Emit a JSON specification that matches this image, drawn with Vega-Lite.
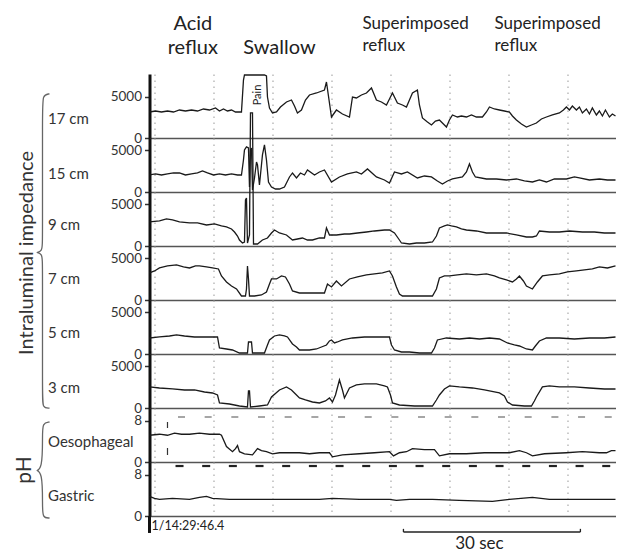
{
"$schema": "https://vega.github.io/schema/vega-lite/v6.json",
"padding": {"left": 13.5, "top": 13, "right": 0, "bottom": 0},
"spacing": 0,
"bounds": "flush",
"config": {
 "view": {"stroke": null},
 "font": "Lato",
 "axisY": {"domainWidth": 3, "domainColor": "#111", "tickSize": 5, "tickWidth": 1.5, "tickColor": "#333", "labelFontSize": 13.5, "labelColor": "#333", "labelPadding": 3, "grid": false, "format": "d", "titleAngle": 0, "titleAlign": "left", "titleBaseline": "middle", "titleX": -102, "titleFontSize": 15, "titleFontWeight": "normal", "titleColor": "#333"},
 "axisX": {"domainColor": "#555", "domainWidth": 1.5, "ticks": false, "labels": false, "grid": true, "gridColor": "#aaa", "gridDash": [1.5, 4.5], "gridWidth": 1.2}
},
"datasets": {
 "c17": [{"t":0,"v":3133},{"t":1.02,"v":3254},{"t":2.03,"v":3133},{"t":3.05,"v":3254},{"t":4.07,"v":3133},{"t":5.08,"v":3374},{"t":6.10,"v":3254},{"t":7.12,"v":3374},{"t":8.14,"v":3254},{"t":9.15,"v":3495},{"t":10.17,"v":3374},{"t":11.19,"v":3615},{"t":11.86,"v":3254},{"t":12.54,"v":3495},{"t":13.22,"v":3254},{"t":13.90,"v":3374},{"t":14.58,"v":3133},{"t":15.59,"v":3133},{"t":15.93,"v":6989},{"t":16.10,"v":7592},{"t":16.95,"v":7592},{"t":17.80,"v":7592},{"t":18.64,"v":7592},{"t":19.49,"v":7592},{"t":19.83,"v":7471},{"t":20.00,"v":4941},{"t":20.34,"v":3615},{"t":20.85,"v":3013},{"t":21.53,"v":3133},{"t":22.20,"v":3736},{"t":23.22,"v":4338},{"t":24.07,"v":4579},{"t":24.58,"v":3856},{"t":25.08,"v":3013},{"t":25.76,"v":3374},{"t":26.44,"v":4579},{"t":27.12,"v":5182},{"t":28.31,"v":5423},{"t":29.66,"v":5784},{"t":30.00,"v":6748},{"t":30.85,"v":2531},{"t":31.69,"v":3374},{"t":32.71,"v":2892},{"t":33.90,"v":2531},{"t":34.41,"v":4941},{"t":35.08,"v":4820},{"t":35.93,"v":5182},{"t":36.78,"v":5423},{"t":37.63,"v":6025},{"t":38.47,"v":4579},{"t":39.32,"v":4338},{"t":40.17,"v":3977},{"t":40.68,"v":4700},{"t":41.19,"v":5423},{"t":42.03,"v":4218},{"t":42.88,"v":3977},{"t":43.56,"v":3736},{"t":44.07,"v":4579},{"t":44.58,"v":5423},{"t":45.42,"v":5784},{"t":45.76,"v":3977},{"t":46.27,"v":2410},{"t":47.12,"v":1928},{"t":47.80,"v":1567},{"t":48.47,"v":2049},{"t":49.15,"v":2169},{"t":49.83,"v":1687},{"t":50.34,"v":1326},{"t":50.85,"v":2169},{"t":51.36,"v":2772},{"t":52.20,"v":2531},{"t":52.88,"v":2651},{"t":53.73,"v":2531},{"t":54.58,"v":2772},{"t":55.42,"v":2531},{"t":56.44,"v":2531},{"t":57.12,"v":3133},{"t":57.63,"v":3736},{"t":58.47,"v":3495},{"t":59.32,"v":3374},{"t":60.17,"v":3254},{"t":61.02,"v":3133},{"t":61.53,"v":2651},{"t":62.20,"v":2169},{"t":63.05,"v":1687},{"t":63.90,"v":1326},{"t":64.75,"v":1567},{"t":65.59,"v":1808},{"t":66.44,"v":2290},{"t":67.29,"v":2531},{"t":68.31,"v":2772},{"t":69.49,"v":3013},{"t":70.17,"v":3374},{"t":70.68,"v":3736},{"t":71.19,"v":3374},{"t":71.69,"v":3856},{"t":72.37,"v":3374},{"t":72.88,"v":3736},{"t":73.39,"v":3013},{"t":74.07,"v":3495},{"t":74.58,"v":2892},{"t":75.08,"v":3615},{"t":75.76,"v":2772},{"t":76.27,"v":3254},{"t":76.78,"v":2651},{"t":77.29,"v":3374},{"t":77.97,"v":2531},{"t":78.47,"v":2892},{"t":79,"v":2651}],
 "c15": [{"t":0,"v":2049},{"t":1.02,"v":2169},{"t":2.03,"v":2049},{"t":3.05,"v":2169},{"t":4.07,"v":2290},{"t":5.08,"v":2290},{"t":6.10,"v":2049},{"t":7.12,"v":2169},{"t":8.14,"v":2290},{"t":8.98,"v":2531},{"t":9.83,"v":2290},{"t":10.85,"v":2049},{"t":11.86,"v":2169},{"t":12.88,"v":2049},{"t":13.90,"v":2169},{"t":14.92,"v":2049},{"t":15.59,"v":2049},{"t":15.93,"v":3856},{"t":16.10,"v":5061},{"t":16.44,"v":5423},{"t":16.78,"v":5302},{"t":16.95,"v":603},{"t":17.12,"v":5061},{"t":17.29,"v":5302},{"t":17.46,"v":241},{"t":17.80,"v":1687},{"t":18.14,"v":3615},{"t":18.31,"v":3254},{"t":18.64,"v":844},{"t":19.15,"v":4459},{"t":19.49,"v":5664},{"t":19.83,"v":3856},{"t":20.17,"v":1205},{"t":20.68,"v":603},{"t":21.36,"v":362},{"t":22.03,"v":362},{"t":22.88,"v":603},{"t":23.73,"v":1808},{"t":24.24,"v":2290},{"t":24.92,"v":1687},{"t":25.59,"v":2290},{"t":26.27,"v":2049},{"t":26.78,"v":2651},{"t":27.97,"v":2049},{"t":28.81,"v":2410},{"t":29.66,"v":2651},{"t":30.85,"v":1205},{"t":32.20,"v":1808},{"t":33.56,"v":2169},{"t":35.08,"v":2410},{"t":35.93,"v":2169},{"t":36.95,"v":2772},{"t":38.47,"v":1808},{"t":39.83,"v":1446},{"t":40.68,"v":1085},{"t":41.53,"v":2410},{"t":42.71,"v":2169},{"t":43.73,"v":2410},{"t":45.42,"v":1687},{"t":46.61,"v":1928},{"t":47.80,"v":1808},{"t":48.81,"v":1326},{"t":49.66,"v":964},{"t":50.51,"v":1326},{"t":51.36,"v":1567},{"t":52.20,"v":1687},{"t":53.05,"v":1808},{"t":53.73,"v":2410},{"t":54.24,"v":3374},{"t":54.75,"v":2410},{"t":55.25,"v":1808},{"t":57.12,"v":1567},{"t":58.81,"v":1567},{"t":60.51,"v":1446},{"t":62.20,"v":1567},{"t":63.56,"v":1326},{"t":64.92,"v":1205},{"t":66.10,"v":1446},{"t":67.29,"v":1205},{"t":68.64,"v":1567},{"t":70.68,"v":1567},{"t":72.03,"v":1808},{"t":72.88,"v":1687},{"t":74.58,"v":1446},{"t":76.27,"v":1567},{"t":77.63,"v":1446},{"t":79,"v":1446}],
 "c9": [{"t":0,"v":2892},{"t":1.69,"v":3013},{"t":2.88,"v":3254},{"t":3.90,"v":3133},{"t":5.08,"v":2892},{"t":6.78,"v":2772},{"t":8.14,"v":2772},{"t":9.66,"v":2531},{"t":11.02,"v":2651},{"t":12.20,"v":2410},{"t":13.05,"v":2290},{"t":13.90,"v":2049},{"t":14.41,"v":1687},{"t":14.92,"v":1205},{"t":15.25,"v":723},{"t":15.76,"v":362},{"t":16.10,"v":482},{"t":16.27,"v":5543},{"t":16.44,"v":5784},{"t":16.61,"v":362},{"t":16.95,"v":1326},{"t":17.12,"v":16027},{"t":17.46,"v":16027},{"t":17.63,"v":241},{"t":18.31,"v":241},{"t":19.15,"v":723},{"t":20.00,"v":964},{"t":20.68,"v":1567},{"t":21.19,"v":1928},{"t":22.03,"v":1567},{"t":23.22,"v":1326},{"t":24.24,"v":723},{"t":25.08,"v":844},{"t":25.93,"v":964},{"t":26.78,"v":723},{"t":27.63,"v":723},{"t":28.81,"v":964},{"t":29.66,"v":964},{"t":30.00,"v":2169},{"t":30.51,"v":1326},{"t":31.69,"v":1326},{"t":33.05,"v":1446},{"t":33.90,"v":1446},{"t":35.25,"v":1567},{"t":36.78,"v":1687},{"t":38.14,"v":1808},{"t":39.83,"v":1928},{"t":40.68,"v":1928},{"t":41.53,"v":1567},{"t":42.37,"v":723},{"t":42.71,"v":362},{"t":44.07,"v":241},{"t":45.25,"v":362},{"t":46.61,"v":362},{"t":47.97,"v":482},{"t":48.64,"v":1205},{"t":49.15,"v":2169},{"t":50.00,"v":2410},{"t":50.51,"v":2531},{"t":51.19,"v":2410},{"t":52.03,"v":2290},{"t":52.88,"v":2049},{"t":53.73,"v":1928},{"t":55.42,"v":1808},{"t":57.12,"v":1567},{"t":58.81,"v":1567},{"t":60.51,"v":1567},{"t":62.20,"v":1326},{"t":63.90,"v":1085},{"t":64.92,"v":1085},{"t":65.59,"v":1205},{"t":66.10,"v":1808},{"t":67.80,"v":1687},{"t":69.49,"v":1687},{"t":71.19,"v":1808},{"t":73.39,"v":1687},{"t":75.42,"v":1687},{"t":77.12,"v":1567},{"t":79,"v":1567}],
 "c7": [{"t":0,"v":3254},{"t":0.85,"v":3495},{"t":1.69,"v":3856},{"t":3.05,"v":4097},{"t":4.58,"v":4218},{"t":5.76,"v":3977},{"t":6.78,"v":3856},{"t":7.80,"v":4097},{"t":8.47,"v":4097},{"t":9.66,"v":3977},{"t":10.68,"v":3856},{"t":11.69,"v":3736},{"t":12.20,"v":2892},{"t":13.05,"v":2169},{"t":13.90,"v":1687},{"t":14.75,"v":1326},{"t":15.59,"v":482},{"t":16.27,"v":482},{"t":16.44,"v":1326},{"t":16.61,"v":4097},{"t":16.78,"v":2531},{"t":16.95,"v":482},{"t":17.80,"v":482},{"t":18.98,"v":603},{"t":19.83,"v":964},{"t":20.34,"v":1928},{"t":20.68,"v":2531},{"t":21.53,"v":2531},{"t":22.37,"v":2892},{"t":23.05,"v":2772},{"t":23.73,"v":1928},{"t":24.24,"v":1085},{"t":25.42,"v":844},{"t":27.12,"v":844},{"t":28.81,"v":844},{"t":29.66,"v":844},{"t":30.17,"v":1928},{"t":30.85,"v":1567},{"t":31.69,"v":2290},{"t":32.54,"v":1687},{"t":33.90,"v":2531},{"t":35.25,"v":2772},{"t":36.78,"v":3013},{"t":38.14,"v":3133},{"t":39.49,"v":3254},{"t":40.68,"v":3495},{"t":41.19,"v":2892},{"t":41.86,"v":1567},{"t":42.37,"v":723},{"t":42.88,"v":482},{"t":44.92,"v":482},{"t":46.61,"v":482},{"t":47.97,"v":482},{"t":48.64,"v":1326},{"t":49.15,"v":2651},{"t":50.00,"v":2892},{"t":50.85,"v":2892},{"t":52.20,"v":3013},{"t":53.73,"v":3133},{"t":55.42,"v":3013},{"t":57.12,"v":3133},{"t":58.47,"v":2892},{"t":59.32,"v":2651},{"t":60.51,"v":2410},{"t":61.53,"v":2169},{"t":62.20,"v":2531},{"t":62.71,"v":2892},{"t":63.39,"v":2290},{"t":63.90,"v":1687},{"t":64.92,"v":1326},{"t":65.76,"v":2169},{"t":66.61,"v":2892},{"t":67.80,"v":3013},{"t":69.49,"v":3133},{"t":70.85,"v":3374},{"t":72.37,"v":3495},{"t":73.73,"v":3615},{"t":75.08,"v":3736},{"t":76.27,"v":3977},{"t":77.63,"v":3856},{"t":79,"v":4097}],
 "c5": [{"t":0,"v":1928},{"t":1.69,"v":2049},{"t":3.39,"v":2169},{"t":4.58,"v":2290},{"t":5.93,"v":2169},{"t":7.63,"v":2049},{"t":9.32,"v":2049},{"t":10.68,"v":2049},{"t":11.53,"v":2049},{"t":11.86,"v":723},{"t":13.05,"v":603},{"t":14.07,"v":482},{"t":15.25,"v":121},{"t":16.61,"v":121},{"t":16.78,"v":1446},{"t":17.29,"v":1446},{"t":17.46,"v":121},{"t":19.49,"v":121},{"t":20.00,"v":1085},{"t":20.34,"v":1687},{"t":21.19,"v":2169},{"t":22.03,"v":2290},{"t":22.88,"v":2169},{"t":23.39,"v":2049},{"t":24.24,"v":1205},{"t":24.92,"v":844},{"t":25.42,"v":482},{"t":27.12,"v":482},{"t":28.31,"v":603},{"t":29.15,"v":844},{"t":30.00,"v":1085},{"t":30.51,"v":1567},{"t":30.85,"v":1687},{"t":31.36,"v":1326},{"t":31.86,"v":1446},{"t":32.71,"v":1687},{"t":33.56,"v":1808},{"t":34.41,"v":1928},{"t":36.44,"v":2049},{"t":38.98,"v":2049},{"t":40.68,"v":2049},{"t":41.02,"v":1085},{"t":41.53,"v":482},{"t":42.71,"v":241},{"t":44.07,"v":241},{"t":45.76,"v":121},{"t":47.80,"v":121},{"t":48.31,"v":723},{"t":48.81,"v":1687},{"t":50.34,"v":1928},{"t":52.54,"v":1808},{"t":54.24,"v":1928},{"t":55.93,"v":1808},{"t":57.63,"v":1928},{"t":59.32,"v":1808},{"t":60.68,"v":1326},{"t":61.86,"v":1085},{"t":62.71,"v":964},{"t":63.90,"v":603},{"t":64.92,"v":482},{"t":65.42,"v":964},{"t":66.10,"v":1567},{"t":67.29,"v":1928},{"t":69.49,"v":1928},{"t":72.03,"v":1808},{"t":74.58,"v":1928},{"t":77.12,"v":1928},{"t":79,"v":2049}],
 "c3": [{"t":0,"v":2531},{"t":1.69,"v":2410},{"t":3.90,"v":2290},{"t":5.93,"v":2169},{"t":7.63,"v":2169},{"t":9.32,"v":1928},{"t":10.68,"v":1808},{"t":11.53,"v":1567},{"t":11.86,"v":603},{"t":13.56,"v":482},{"t":15.25,"v":241},{"t":16.61,"v":121},{"t":16.78,"v":2049},{"t":16.95,"v":2049},{"t":17.12,"v":121},{"t":18.64,"v":241},{"t":20.00,"v":362},{"t":20.68,"v":1326},{"t":22.03,"v":2169},{"t":23.22,"v":2531},{"t":24.07,"v":2169},{"t":24.75,"v":1687},{"t":25.42,"v":1205},{"t":26.44,"v":964},{"t":27.63,"v":723},{"t":28.81,"v":603},{"t":29.83,"v":844},{"t":30.51,"v":1205},{"t":31.02,"v":723},{"t":31.53,"v":1567},{"t":32.20,"v":3374},{"t":32.71,"v":2169},{"t":33.05,"v":1205},{"t":33.90,"v":2410},{"t":35.08,"v":2772},{"t":36.44,"v":2892},{"t":38.47,"v":2892},{"t":39.83,"v":2651},{"t":40.34,"v":2531},{"t":40.85,"v":1567},{"t":41.19,"v":603},{"t":42.37,"v":362},{"t":44.92,"v":241},{"t":47.97,"v":241},{"t":48.64,"v":964},{"t":49.15,"v":1567},{"t":50.00,"v":2290},{"t":50.85,"v":2651},{"t":52.54,"v":2531},{"t":54.75,"v":2410},{"t":56.78,"v":2169},{"t":59.32,"v":1808},{"t":60.17,"v":1446},{"t":60.68,"v":723},{"t":61.53,"v":362},{"t":63.56,"v":241},{"t":64.75,"v":241},{"t":65.25,"v":844},{"t":65.59,"v":1326},{"t":66.61,"v":2531},{"t":67.80,"v":2651},{"t":69.49,"v":2531},{"t":72.03,"v":2531},{"t":74.58,"v":2410},{"t":77.12,"v":2290},{"t":79,"v":2290}],
 "phO": [{"t":0,"v":5.2},{"t":1.69,"v":5.4},{"t":3.05,"v":5.2},{"t":4.24,"v":5.6},{"t":5.42,"v":5.4},{"t":6.78,"v":5.4},{"t":8.47,"v":5.6},{"t":10.17,"v":5.4},{"t":11.86,"v":5.4},{"t":12.20,"v":5.2},{"t":13.05,"v":3.0},{"t":14.07,"v":2.0},{"t":14.58,"v":2.6},{"t":14.92,"v":3.2},{"t":15.25,"v":2.0},{"t":16.10,"v":1.6},{"t":17.46,"v":1.4},{"t":18.31,"v":2.6},{"t":18.98,"v":2.2},{"t":19.83,"v":2.0},{"t":20.85,"v":1.6},{"t":22.03,"v":1.8},{"t":23.73,"v":1.8},{"t":25.42,"v":1.8},{"t":27.12,"v":1.6},{"t":28.81,"v":1.8},{"t":30.51,"v":1.8},{"t":31.02,"v":1.0},{"t":32.71,"v":1.4},{"t":35.59,"v":1.6},{"t":38.14,"v":1.8},{"t":40.68,"v":2.0},{"t":41.36,"v":1.2},{"t":42.37,"v":1.8},{"t":43.56,"v":2.0},{"t":44.58,"v":2.6},{"t":46.61,"v":2.4},{"t":48.31,"v":2.4},{"t":49.15,"v":1.2},{"t":50.85,"v":1.6},{"t":53.73,"v":1.6},{"t":56.78,"v":1.8},{"t":59.32,"v":1.8},{"t":61.02,"v":1.8},{"t":62.71,"v":2.2},{"t":63.90,"v":1.8},{"t":64.92,"v":1.2},{"t":66.95,"v":1.6},{"t":70.68,"v":1.8},{"t":73.39,"v":2.0},{"t":76.27,"v":1.8},{"t":77.46,"v":1.8},{"t":78.31,"v":2.2},{"t":79,"v":2.2}],
 "phG": [{"t":0,"v":3.81},{"t":0.85,"v":3.43},{"t":1.69,"v":3.24},{"t":3.90,"v":3.43},{"t":6.78,"v":3.24},{"t":8.47,"v":3.62},{"t":9.66,"v":3.81},{"t":10.68,"v":3.43},{"t":13.56,"v":3.24},{"t":16.95,"v":3.24},{"t":20.34,"v":3.24},{"t":25.42,"v":3.24},{"t":28.81,"v":3.24},{"t":31.02,"v":3.43},{"t":35.59,"v":3.24},{"t":40.68,"v":3.24},{"t":41.86,"v":3.05},{"t":44.07,"v":3.24},{"t":47.97,"v":3.24},{"t":52.54,"v":3.05},{"t":58.14,"v":2.86},{"t":61.02,"v":3.24},{"t":64.92,"v":3.62},{"t":67.80,"v":3.24},{"t":70.68,"v":3.24},{"t":72.88,"v":3.24},{"t":76.27,"v":3.24},{"t":79,"v":3.24}],
 "annBig": [{"t":7.34,"v":13797,"label":"Acid"},{"t":7.34,"v":10905,"label":"reflux"},{"t":22.03,"v":10905,"label":"Swallow"}],
 "annSmall": [{"t":36.1,"v":13737,"label":"Superimposed"},{"t":36.1,"v":11086,"label":"reflux"},{"t":58.47,"v":13737,"label":"Superimposed"},{"t":58.47,"v":11086,"label":"reflux"}],
 "pain": [{"t":18.31,"v":5182,"label":"Pain"}],
 "arrows": [{"t":7.34},{"t":22.03},{"t":39.83},{"t":62.42}],
 "bigImp": [{"t":-20.85,"v":-843,"label":"Intraluminal impedance"}],
 "braceImp": [{"i":0,"t":-16.95,"v":18316},{"i":1,"t":-18.14,"v":18196},{"i":2,"t":-18.14,"v":16388},{"i":3,"t":-18.14,"v":723},{"i":4,"t":-18.14,"v":-723},{"i":5,"t":-19.49,"v":-783},{"i":6,"t":-18.14,"v":-843},{"i":7,"t":-18.14,"v":-2290},{"i":8,"t":-18.14,"v":-17955},{"i":9,"t":-18.14,"v":-19521},{"i":10,"t":-16.95,"v":-19521}],
 "bigPH": [{"t":-21.19,"v":-1.56,"label":"pH"}],
 "bracePH": [{"i":0,"t":-16.95,"v":7.78},{"i":1,"t":-18.14,"v":7.58},{"i":2,"t":-18.14,"v":5.25},{"i":3,"t":-18.14,"v":-1.5},{"i":4,"t":-19.49,"v":-1.65},{"i":5,"t":-18.14,"v":-1.8},{"i":6,"t":-18.14,"v":-8.36},{"i":7,"t":-18.14,"v":-10.89},{"i":8,"t":-16.95,"v":-10.89}],
 "abc": [{"t":14.07,"label":"A"},{"t":45.42,"label":"B"},{"t":65.76,"label":"C"}],
 "marksO": [{"t":3.05,"v":7.78,"v2":6.61},{"t":3.05,"v":2.72,"v2":1.36}],
 "dashTop": [{"t":4.83,"t2":6.02,"v":8.75},{"t":9.35,"t2":10.54,"v":8.75},{"t":13.87,"t2":15.06,"v":8.75},{"t":18.39,"t2":19.58,"v":8.75},{"t":22.91,"t2":24.10,"v":8.75},{"t":27.44,"t2":28.63,"v":8.75},{"t":31.96,"t2":33.15,"v":8.75},{"t":36.48,"t2":37.67,"v":8.75},{"t":41.00,"t2":42.19,"v":8.75},{"t":45.52,"t2":46.71,"v":8.75},{"t":50.04,"t2":51.23,"v":8.75},{"t":54.56,"t2":55.75,"v":8.75},{"t":59.08,"t2":60.27,"v":8.75},{"t":63.60,"t2":64.79,"v":8.75},{"t":68.13,"t2":69.32,"v":8.75},{"t":72.65,"t2":73.84,"v":8.75},{"t":77.17,"t2":78.36,"v":8.75}],
 "dashBottom": [{"t":4.41,"t2":5.77,"v":9.72},{"t":8.93,"t2":10.29,"v":9.72},{"t":13.45,"t2":14.81,"v":9.72},{"t":17.97,"t2":19.33,"v":9.72},{"t":22.49,"t2":23.85,"v":9.72},{"t":27.02,"t2":28.38,"v":9.72},{"t":31.54,"t2":32.90,"v":9.72},{"t":36.06,"t2":37.42,"v":9.72},{"t":40.58,"t2":41.94,"v":9.72},{"t":45.10,"t2":46.46,"v":9.72},{"t":49.62,"t2":50.98,"v":9.72},{"t":54.14,"t2":55.50,"v":9.72},{"t":58.66,"t2":60.02,"v":9.72},{"t":63.19,"t2":64.55,"v":9.72},{"t":67.71,"t2":69.07,"v":9.72},{"t":72.23,"t2":73.59,"v":9.72},{"t":76.75,"t2":78.11,"v":9.72}],
 "axisExt": [{"t":0,"t2":0,"v":0,"v2":-3.3}],
 "stamp": [{"t":0.34,"v":-1.94,"label":"1/14:29:46.4"}],
 "secLabel": [{"t":55.93,"v":-5.44,"label":"30 sec"}],
 "bar": [{"t":43.05,"t2":73.05,"v":-3.11,"v2":-3.11},{"t":43.05,"t2":43.05,"v":-3.11,"v2":-2.5},{"t":73.05,"t2":73.05,"v":-3.11,"v2":-2.5}]
},
"vconcat": [
 {"width": 466, "height": 64,
  "encoding": {"x": {"field": "t", "type": "quantitative", "scale": {"domain": [0, 79], "nice": false}, "axis": {"values": [0.85,10.85,20.85,30.85,40.85,50.85,60.85,70.85], "title": null}},
               "y": {"field": "v", "type": "quantitative", "scale": {"domain": [0, 7712], "nice": false}, "axis": {"values": [0, 5000], "title": "17 cm", "titleY": 44, "encode": {"labels": {"update": {"dy": {"signal": "datum.value === 0 ? -1.5 : 1.5"}}}}}}},
  "layer": [
   {"data": {"name": "c17"}, "mark": {"type": "line", "clip": false, "color": "#1a1a1a", "strokeWidth": 1.3}},
   {"data": {"name": "annBig"}, "mark": {"type": "text", "fontSize": 20, "color": "#222", "align": "center", "baseline": "middle"}, "encoding": {"text": {"field": "label"}}},
   {"data": {"name": "annSmall"}, "mark": {"type": "text", "fontSize": 17, "color": "#222", "align": "left", "baseline": "middle"}, "encoding": {"text": {"field": "label"}}},
   {"data": {"name": "pain"}, "mark": {"type": "text", "fontSize": 11, "color": "#222", "align": "center", "baseline": "middle", "angle": 270}, "encoding": {"text": {"field": "label"}}},
   {"data": {"name": "arrows"}, "mark": {"type": "rule", "color": "#222", "strokeWidth": 1.3}, "encoding": {"y": {"datum": 9640}, "y2": {"datum": 6387}}},
   {"data": {"name": "arrows"}, "mark": {"type": "point", "shape": "M-0.7,-1L0.7,-1L0,1Z", "size": 100, "filled": true, "color": "#222", "opacity": 1}, "encoding": {"y": {"datum": 6387}}}
  ]},
 {"width": 466, "height": 54,
  "encoding": {"x": {"field": "t", "type": "quantitative", "scale": {"domain": [0, 79], "nice": false}, "axis": {"values": [0.85,10.85,20.85,30.85,40.85,50.85,60.85,70.85], "title": null}},
               "y": {"field": "v", "type": "quantitative", "scale": {"domain": [0, 6500], "nice": false}, "axis": {"values": [0, 5000], "title": "15 cm", "titleY": 35, "encode": {"labels": {"update": {"dy": {"signal": "datum.value === 0 ? -1.5 : 1.5"}}}}}}},
  "layer": [
   {"data": {"name": "c15"}, "mark": {"type": "line", "clip": false, "color": "#1a1a1a", "strokeWidth": 1.3}}
  ]},
 {"width": 466, "height": 54,
  "encoding": {"x": {"field": "t", "type": "quantitative", "scale": {"domain": [0, 79], "nice": false}, "axis": {"values": [0.85,10.85,20.85,30.85,40.85,50.85,60.85,70.85], "title": null}},
               "y": {"field": "v", "type": "quantitative", "scale": {"domain": [0, 6500], "nice": false}, "axis": {"values": [0, 5000], "title": "9 cm", "titleY": 32, "encode": {"labels": {"update": {"dy": {"signal": "datum.value === 0 ? -1.5 : 1.5"}}}}}}},
  "layer": [
   {"data": {"name": "c9"}, "mark": {"type": "line", "clip": false, "color": "#1a1a1a", "strokeWidth": 1.3}},
   {"data": {"name": "bigImp"}, "mark": {"type": "text", "fontSize": 20, "color": "#333", "align": "center", "baseline": "middle", "angle": 270}, "encoding": {"text": {"field": "label"}}},
   {"data": {"name": "braceImp"}, "mark": {"type": "line", "clip": false, "interpolate": "basis", "color": "#666", "strokeWidth": 1.3}, "encoding": {"order": {"field": "i"}}}
  ]},
 {"width": 466, "height": 54,
  "encoding": {"x": {"field": "t", "type": "quantitative", "scale": {"domain": [0, 79], "nice": false}, "axis": {"values": [0.85,10.85,20.85,30.85,40.85,50.85,60.85,70.85], "title": null}},
               "y": {"field": "v", "type": "quantitative", "scale": {"domain": [0, 6500], "nice": false}, "axis": {"values": [0, 5000], "title": "7 cm", "titleY": 32, "encode": {"labels": {"update": {"dy": {"signal": "datum.value === 0 ? -1.5 : 1.5"}}}}}}},
  "layer": [
   {"data": {"name": "c7"}, "mark": {"type": "line", "clip": false, "color": "#1a1a1a", "strokeWidth": 1.3}}
  ]},
 {"width": 466, "height": 54,
  "encoding": {"x": {"field": "t", "type": "quantitative", "scale": {"domain": [0, 79], "nice": false}, "axis": {"values": [0.85,10.85,20.85,30.85,40.85,50.85,60.85,70.85], "title": null}},
               "y": {"field": "v", "type": "quantitative", "scale": {"domain": [0, 6500], "nice": false}, "axis": {"values": [0, 5000], "title": "5 cm", "titleY": 32, "encode": {"labels": {"update": {"dy": {"signal": "datum.value === 0 ? -1.5 : 1.5"}}}}}}},
  "layer": [
   {"data": {"name": "c5"}, "mark": {"type": "line", "clip": false, "color": "#1a1a1a", "strokeWidth": 1.3}}
  ]},
 {"width": 466, "height": 54,
  "encoding": {"x": {"field": "t", "type": "quantitative", "scale": {"domain": [0, 79], "nice": false}, "axis": {"values": [0.85,10.85,20.85,30.85,40.85,50.85,60.85,70.85], "title": null}},
               "y": {"field": "v", "type": "quantitative", "scale": {"domain": [0, 6500], "nice": false}, "axis": {"values": [0, 5000], "title": "3 cm", "titleY": 33, "encode": {"labels": {"update": {"dy": {"signal": "datum.value === 0 ? -1.5 : 1.5"}}}}}}},
  "layer": [
   {"data": {"name": "c3"}, "mark": {"type": "line", "clip": false, "color": "#1a1a1a", "strokeWidth": 1.3}}
  ]},
 {"width": 466, "height": 54,
  "encoding": {"x": {"field": "t", "type": "quantitative", "scale": {"domain": [0, 79], "nice": false}, "axis": {"values": [0.85,10.85,20.85,30.85,40.85,50.85,60.85,70.85], "title": null}},
               "y": {"field": "v", "type": "quantitative", "scale": {"domain": [0, 10.5], "nice": false}, "axis": {"values": [0, 8], "title": "Oesophageal", "titleY": 33, "encode": {"labels": {"update": {"dy": {"signal": "datum.value === 0 ? -1.5 : 1.5"}}}}}}},
  "layer": [
   {"data": {"name": "phO"}, "mark": {"type": "line", "clip": false, "color": "#1a1a1a", "strokeWidth": 1.3}},
   {"data": {"name": "bigPH"}, "mark": {"type": "text", "fontSize": 21, "color": "#333", "align": "center", "baseline": "middle", "angle": 270}, "encoding": {"text": {"field": "label"}}},
   {"data": {"name": "bracePH"}, "mark": {"type": "line", "clip": false, "interpolate": "basis", "color": "#666", "strokeWidth": 1.3}, "encoding": {"order": {"field": "i"}}},
   {"data": {"name": "abc"}, "mark": {"type": "text", "fontSize": 17, "color": "#222", "align": "center", "baseline": "middle"}, "encoding": {"y": {"datum": 6.22}, "text": {"field": "label"}}},
   {"data": {"name": "dashTop"}, "mark": {"type": "rule", "color": "#888", "strokeWidth": 1.5}, "encoding": {"x2": {"field": "t2"}}},
   {"data": {"name": "marksO"}, "mark": {"type": "rule", "color": "#333", "strokeWidth": 1.2}, "encoding": {"y2": {"field": "v2"}}}
  ]},
 {"width": 466, "height": 54,
  "encoding": {"x": {"field": "t", "type": "quantitative", "scale": {"domain": [0, 79], "nice": false}, "axis": {"values": [0.85,10.85,20.85,30.85,40.85,50.85,60.85,70.85], "title": null}},
               "y": {"field": "v", "type": "quantitative", "scale": {"domain": [0, 10.5], "nice": false}, "axis": {"values": [0, 8], "title": "Gastric", "titleY": 33, "encode": {"labels": {"update": {"dy": {"signal": "datum.value === 0 ? -1.5 : 1.5"}}}}}}},
  "layer": [
   {"data": {"name": "phG"}, "mark": {"type": "line", "clip": false, "color": "#1a1a1a", "strokeWidth": 1.3}},
   {"data": {"name": "dashBottom"}, "mark": {"type": "rule", "color": "#222", "strokeWidth": 2.2}, "encoding": {"x2": {"field": "t2"}}},
   {"data": {"name": "axisExt"}, "mark": {"type": "rule", "color": "#111", "strokeWidth": 3}, "encoding": {"x2": {"field": "t2"}, "y2": {"field": "v2"}}},
   {"data": {"name": "stamp"}, "mark": {"type": "text", "fontSize": 12.5, "color": "#222", "align": "left", "baseline": "middle"}, "encoding": {"text": {"field": "label"}}},
   {"data": {"name": "secLabel"}, "mark": {"type": "text", "fontSize": 17, "color": "#222", "align": "center", "baseline": "middle"}, "encoding": {"text": {"field": "label"}}},
   {"data": {"name": "bar"}, "mark": {"type": "rule", "color": "#222", "strokeWidth": 1.3}, "encoding": {"x2": {"field": "t2"}, "y2": {"field": "v2"}}}
  ]}
]
}
